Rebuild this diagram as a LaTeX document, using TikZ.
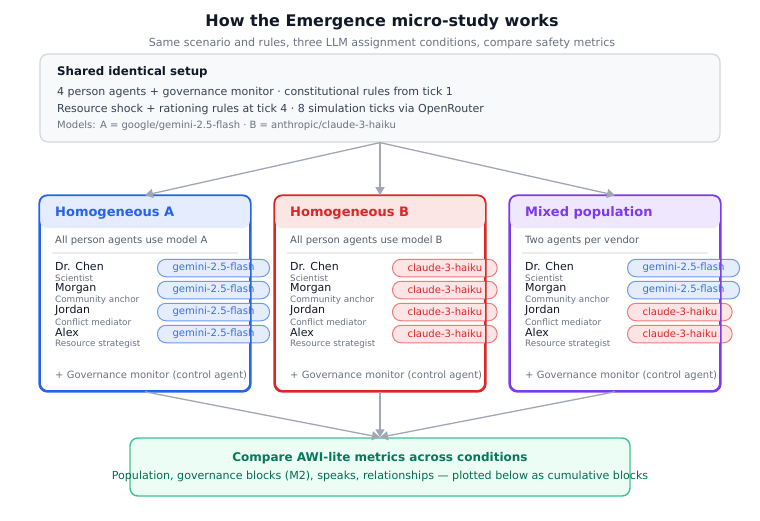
\documentclass[tikz,border=0pt]{standalone}
\usepackage{fontspec}
\setmainfont{DejaVu Sans}
\usetikzlibrary{arrows.meta,positioning,calc}
\definecolor{inkdark}{HTML}{111827}
\definecolor{inkmid}{HTML}{374151}
\definecolor{inkgrey}{HTML}{6B7280}
\definecolor{flowgrey}{HTML}{A3A6B4}
\definecolor{setupfill}{HTML}{F8F9FB}
\definecolor{setupline}{HTML}{D3D6DC}
\definecolor{condblue}{HTML}{2563EB}
\definecolor{condred}{HTML}{DC2626}
\definecolor{condpurple}{HTML}{7C3AED}
\definecolor{gemline}{HTML}{6B9BF2}
\definecolor{gemfill}{HTML}{E5EDFD}
\definecolor{gemtext}{HTML}{3B6FDC}
\definecolor{claline}{HTML}{EE7B7B}
\definecolor{clafill}{HTML}{FDE5E5}
\definecolor{clatext}{HTML}{DC2626}
\definecolor{cmpline}{HTML}{3CC48F}
\definecolor{cmpfill}{HTML}{ECFDF5}
\definecolor{cmptext}{HTML}{047857}
\newcommand{\gemlabel}{gemini-2.5-flash}
\newcommand{\clalabel}{claude-3-haiku}
\tikzset{
  heading/.style={font=\bfseries\fontsize{16}{19}\selectfont, text=inkdark},
  subheading/.style={font=\fontsize{11.1}{13}\selectfont, text=inkgrey},
  setupbox/.style={draw=setupline, line width=1.2pt, rounded corners=8pt, fill=setupfill,
                   minimum width=680pt, minimum height=88pt},
  setuptext/.style={anchor=west, inner sep=0pt, font=\fontsize{11}{13}\selectfont, text=inkmid},
  condframe/.style={draw=#1, line width=1.6pt, rounded corners=8pt, fill=white,
                    minimum width=210pt, minimum height=195pt},
  condtitle/.style={anchor=west, inner sep=0pt, font=\bfseries\fontsize{13}{15}\selectfont},
  note/.style={anchor=west, inner sep=0pt, font=\fontsize{10}{12}\selectfont, text=inkmid!85},
  sepline/.style={draw=black!7, line width=1.2pt},
  agentname/.style={anchor=west, inner sep=0pt, font=\fontsize{11}{13}\selectfont, text=inkdark},
  agentrole/.style={anchor=west, inner sep=0pt, font=\fontsize{8.8}{10}\selectfont, text=inkgrey},
  pill/.style={draw=#1line, fill=#1fill, text=#1text, line width=1pt, rounded corners=8.5pt,
               anchor=west, minimum height=17.5pt, inner xsep=15pt, inner ysep=0pt,
               font=\fontsize{10.1}{12}\selectfont},
  flow/.style={draw=flowgrey, line width=1.3pt, -{Triangle[length=8pt,width=9pt]}},
  cmpbox/.style={draw=cmpline, line width=1.4pt, rounded corners=8pt, fill=cmpfill,
                 minimum width=500pt, minimum height=58pt},
}
% #1 name, #2 left x, #3 colour, #4 title, #5 note, #6 agents
\newcommand{\condbox}[6]{%
  \node[condframe=#3] (#1) at (#2+105,293.5) {};
  \fill[#3!12, rounded corners=7pt] ([shift={(1,1)}]#1.north west)
        rectangle ([shift={(-1,33)}]#1.north east);
  \node[condtitle, text=#3] (#1-title) at (#2+15,213) {#4};
  \node[note] (#1-note) at (#2+15,241) {#5};
  \draw[sepline] (#2+12,253) -- (#2+198,253);
  \foreach \who/\role/\mdl [count=\i from 0] in {#6} {
    \node[agentname] (#1-n\i) at (#2+15,266.5+22*\i) {\who};
    \node[agentrole] (#1-r\i) at (#2+15,278.5+22*\i) {\role};
    \node[pill=\mdl] (#1-m\i) at (#2+117,268+22*\i) {\csname\mdl label\endcsname};
  }
  \draw[draw=#3, line width=1.6pt, rounded corners=8pt] (#1.south west) rectangle (#1.north east);
  \node[note, text=inkgrey] (#1-gov) at (#2+15,376) {+ Governance monitor (control agent)};
}

\begin{document}
\begin{tikzpicture}[x=1pt, y=-1pt]
  \useasboundingbox (0,0) rectangle (760,520);

  \node[heading] (title) at (382,22) {How the Emergence micro-study works};
  \node[subheading] (subtitle) at (382,43)
    {Same scenario and rules, three LLM assignment conditions, compare safety metrics};

  % shared setup
  \node[setupbox] (setup) at (380,98) {};
  \node[setuptext, font=\bfseries\fontsize{11.8}{14}\selectfont, text=inkdark] (setup-t) at (57,72)
    {Shared identical setup};
  \node[setuptext] (setup-1) at (57,92)
    {4 person agents + governance monitor · constitutional rules from tick 1};
  \node[setuptext] (setup-2) at (57,109)
    {Resource shock + rationing rules at tick 4 · 8 simulation ticks via OpenRouter};
  \node[setuptext, font=\fontsize{10}{12}\selectfont, text=inkgrey] (setup-3) at (57,126)
    {Models: A = google/gemini-2.5-flash · B = anthropic/claude-3-haiku};

  % three conditions
  \condbox{condA}{40}{condblue}{Homogeneous A}{All person agents use model A}
    {Dr. Chen/Scientist/gem, Morgan/Community anchor/gem,
     Jordan/Conflict mediator/gem, Alex/Resource strategist/gem}
  \condbox{condB}{275}{condred}{Homogeneous B}{All person agents use model B}
    {Dr. Chen/Scientist/cla, Morgan/Community anchor/cla,
     Jordan/Conflict mediator/cla, Alex/Resource strategist/cla}
  \condbox{condM}{510}{condpurple}{Mixed population}{Two agents per vendor}
    {Dr. Chen/Scientist/gem, Morgan/Community anchor/gem,
     Jordan/Conflict mediator/cla, Alex/Resource strategist/cla}

  % comparison
  \node[cmpbox] (compare) at (380,467) {};
  \node[font=\bfseries\fontsize{12}{14}\selectfont, text=cmptext] (compare-t) at (380,458)
    {Compare AWI-lite metrics across conditions};
  \node[font=\fontsize{11.1}{13}\selectfont, text=cmptext!90!black] (compare-s) at (380,476)
    {Population, governance blocks (M2), speaks, relationships — plotted below as cumulative blocks};

  \draw[flow] (setup.south) -- (condA.north);
  \draw[flow] (setup.south) -- (condB.north);
  \draw[flow] (setup.south) -- (condM.north);
  \draw[flow] (condA.south) -- (compare.north);
  \draw[flow] (condB.south) -- (compare.north);
  \draw[flow] (condM.south) -- (compare.north);
\end{tikzpicture}
\end{document}
